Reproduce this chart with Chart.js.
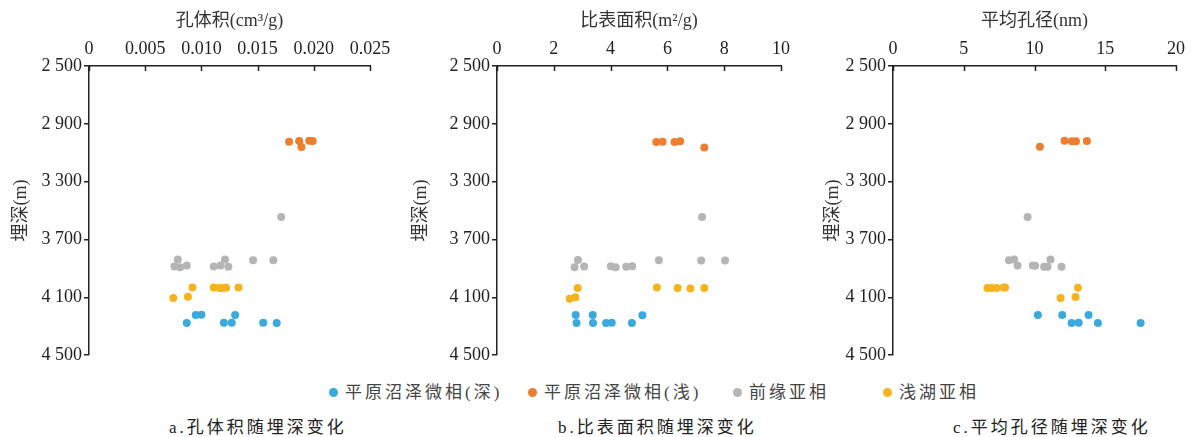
<!DOCTYPE html>
<html>
<head>
<meta charset="utf-8">
<script src="https://cdn.jsdelivr.net/npm/chart.js@4"></script>
<style>
    body { margin: 0; background: #fff; }
    #wrap {
        position: relative; width: 1198px; height: 437px; overflow: hidden;
        font-family: "Liberation Serif", "Noto Sans CJK SC", serif;
    }
    #wrap canvas { position: absolute; top: 0; }
    .legend-item {
        position: absolute; top: 382px; font-size: 17px; line-height: 22px;
        letter-spacing: 3px; color: #444; white-space: nowrap;
    }
    .dot {
        display: inline-block; width: 9px; height: 9px; border-radius: 50%;
        margin-right: 7px; vertical-align: 1px;
    }
    .caption {
        position: absolute; top: 417px; font-size: 17px; line-height: 22px;
        letter-spacing: 3px; color: #222; white-space: nowrap;
    }
</style>
</head>
<body>
<div id="wrap">
    <canvas id="chartA" width="398" height="368" style="left:0px"></canvas>
    <canvas id="chartB" width="409" height="368" style="left:400px"></canvas>
    <canvas id="chartC" width="392" height="368" style="left:812px"></canvas>
    <div id="legend"></div>
    <div class="caption" style="left:169px">a.孔体积随埋深变化</div>
    <div class="caption" style="left:558px">b.比表面积随埋深变化</div>
    <div class="caption" style="left:953px">c.平均孔径随埋深变化</div>
</div>
<script>
// Series (sedimentary microfacies)
const seriesNames = ['平原沼泽微相(深)', '平原沼泽微相(浅)', '前缘亚相', '浅湖亚相'];
const seriesColors = ['#3ba9dd', '#ef7d30', '#b5b5b5', '#f6b31d'];
const depthTicks = [2500, 2900, 3300, 3700, 4100, 4500];

// a. 孔体积 (cm3/g) vs depth
const volDeep = [0.0087, 0.0095, 0.0100, 0.0120, 0.0127, 0.0130, 0.0155, 0.0167];
const volDeepDepth = [4277, 4222, 4220, 4275, 4275, 4222, 4275, 4277];
const volShallow = [0.0178, 0.0187, 0.0189, 0.0196, 0.0199];
const volShallowDepth = [3024, 3019, 3061, 3017, 3019];
const volFront = [0.0171, 0.0079, 0.0076, 0.0081, 0.0087, 0.0111, 0.0117, 0.0121, 0.0124, 0.0146, 0.0164];
const volFrontDepth = [3545, 3839, 3887, 3892, 3880, 3887, 3880, 3839, 3889, 3843, 3843];
const volLake = [0.0075, 0.0088, 0.0092, 0.0111, 0.0116, 0.0119, 0.0122, 0.0133];
const volLakeDepth = [4105, 4096, 4032, 4032, 4036, 4036, 4034, 4032];

// b. 比表面积 (m2/g) vs depth
const areaDeep = [2.77, 2.80, 3.37, 3.38, 3.84, 4.04, 4.75, 5.12];
const areaDeepDepth = [4222, 4277, 4222, 4277, 4277, 4275, 4277, 4224];
const areaShallow = [5.61, 5.83, 6.25, 6.45, 7.30];
const areaShallowDepth = [3026, 3024, 3026, 3021, 3063];
const areaFront = [7.22, 2.85, 2.73, 3.07, 4.01, 4.18, 4.55, 4.76, 5.70, 7.19, 8.03];
const areaFrontDepth = [3545, 3841, 3892, 3887, 3885, 3892, 3889, 3885, 3843, 3845, 3845];
const areaLake = [2.56, 2.76, 2.84, 5.63, 6.36, 6.81, 7.30];
const areaLakeDepth = [4110, 4100, 4036, 4032, 4036, 4038, 4036];

// c. 平均孔径 (nm) vs depth
const sizeDeep = [10.24, 11.96, 12.62, 13.12, 13.82, 14.48, 17.50];
const sizeDeepDepth = [4222, 4222, 4277, 4275, 4222, 4277, 4277];
const sizeShallow = [10.38, 12.12, 12.64, 12.93, 13.70];
const sizeShallowDepth = [3058, 3017, 3021, 3021, 3019];
const sizeFront = [9.51, 8.19, 8.56, 8.80, 9.88, 10.05, 10.68, 10.92, 11.13, 11.91];
const sizeFrontDepth = [3545, 3843, 3839, 3880, 3880, 3882, 3889, 3889, 3839, 3889];
const sizeLake = [6.68, 6.96, 7.31, 7.83, 7.92, 11.84, 12.90, 13.07];
const sizeLakeDepth = [4036, 4036, 4036, 4032, 4032, 4105, 4098, 4034];

const tickFont = { family: '"Liberation Serif", "Noto Sans CJK SC", serif', size: 18 };
const titleFont = { family: '"Liberation Serif", "Noto Sans CJK SC", serif', size: 18 };
const axisColor = '#222';

// top axis tick marks point inward (down into the plot)
const innerTicks = {
    id: 'innerTicks',
    afterDraw(chart) {
        const ctx = chart.ctx;
        const xs = chart.scales.x;
        const top = chart.chartArea.top;
        ctx.save();
        ctx.strokeStyle = axisColor;
        ctx.lineWidth = 1.5;
        xs.ticks.forEach(t => {
            const px = Math.round(xs.getPixelForValue(t.value)) + 0.5;
            ctx.beginPath();
            ctx.moveTo(px, top);
            ctx.lineTo(px, top + 5);
            ctx.stroke();
        });
        ctx.restore();
    }
};

function toPoints(xs, ys) {
    return xs.map((x, i) => ({ x: x, y: ys[i] }));
}

function spaced(v) {
    return String(v).replace(/\B(?=(\d{3})+(?!\d))/g, ' ');
}

function makePanel(id, cfg) {
    const ctx = document.getElementById(id).getContext('2d');
    return new Chart(ctx, {
        type: 'scatter',
        data: {
            datasets: cfg.series.map((s, i) => ({
                label: seriesNames[i],
                data: toPoints(s[0], s[1]),
                backgroundColor: seriesColors[i],
                borderWidth: 0,
                pointRadius: 4,
                pointHoverRadius: 4
            }))
        },
        options: {
            responsive: false,
            animation: false,
            layout: { padding: { left: 0, right: 28, top: 0, bottom: 12 } },
            plugins: {
                legend: { display: false },
                tooltip: { enabled: false }
            },
            scales: {
                x: {
                    type: 'linear',
                    position: 'top',
                    min: 0,
                    max: cfg.xMax,
                    ticks: {
                        stepSize: cfg.xStep,
                        autoSkip: false,
                        maxRotation: 0,
                        padding: 6,
                        color: axisColor,
                        font: tickFont,
                        callback: cfg.xFormat
                    },
                    grid: { drawOnChartArea: false, drawTicks: false },
                    border: { color: axisColor, width: 1.5 },
                    title: {
                        display: true,
                        text: cfg.xTitle,
                        color: '#333',
                        font: titleFont,
                        padding: { top: 10, bottom: 0 }
                    },
                    afterFit(scale) { scale.height = 66; }
                },
                y: {
                    type: 'linear',
                    reverse: true,
                    min: depthTicks[0],
                    max: depthTicks[depthTicks.length - 1],
                    afterBuildTicks(scale) {
                        scale.ticks = depthTicks.map(v => ({ value: v }));
                    },
                    ticks: {
                        padding: 2,
                        color: axisColor,
                        font: tickFont,
                        callback: v => spaced(v)
                    },
                    grid: { drawOnChartArea: false, tickLength: 5, color: axisColor, lineWidth: 1.5 },
                    border: { color: axisColor, width: 1.5 },
                    title: {
                        display: true,
                        text: '埋深(m)',
                        color: '#333',
                        font: titleFont,
                        padding: { top: 10, bottom: 0 }
                    },
                    afterFit(scale) { scale.width = cfg.yWidth; }
                }
            }
        },
        plugins: [innerTicks]
    });
}

makePanel('chartA', {
    xTitle: '孔体积(cm³/g)',
    xMax: 0.025,
    xStep: 0.005,
    xFormat: v => (v === 0 ? '0' : v.toFixed(3)),
    yWidth: 89,
    series: [
        [volDeep, volDeepDepth],
        [volShallow, volShallowDepth],
        [volFront, volFrontDepth],
        [volLake, volLakeDepth]
    ]
});

makePanel('chartB', {
    xTitle: '比表面积(m²/g)',
    xMax: 10,
    xStep: 2,
    xFormat: v => String(v),
    yWidth: 97,
    series: [
        [areaDeep, areaDeepDepth],
        [areaShallow, areaShallowDepth],
        [areaFront, areaFrontDepth],
        [areaLake, areaLakeDepth]
    ]
});

makePanel('chartC', {
    xTitle: '平均孔径(nm)',
    xMax: 20,
    xStep: 5,
    xFormat: v => String(v),
    yWidth: 81,
    series: [
        [sizeDeep, sizeDeepDepth],
        [sizeShallow, sizeShallowDepth],
        [sizeFront, sizeFrontDepth],
        [sizeLake, sizeLakeDepth]
    ]
});

// Shared legend under the three panels
const legendLeft = [329, 528, 733, 883];
const legendBox = document.getElementById('legend');
seriesNames.forEach((name, i) => {
    const item = document.createElement('div');
    item.className = 'legend-item';
    item.style.left = legendLeft[i] + 'px';
    item.innerHTML = '<span class="dot" style="background:' + seriesColors[i] + '"></span>' + name;
    legendBox.appendChild(item);
});
</script>
</body>
</html>
